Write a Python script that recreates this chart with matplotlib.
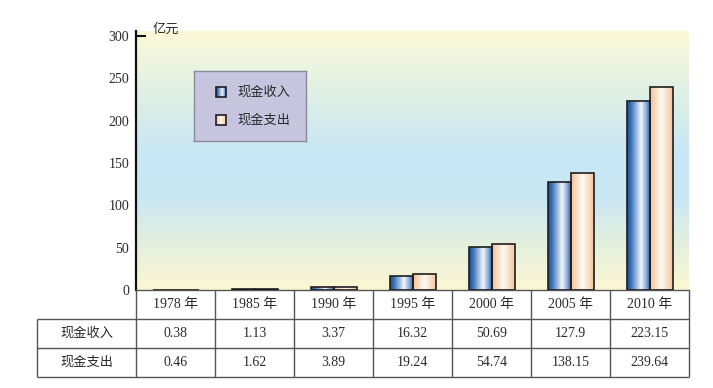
import numpy as np
import matplotlib
matplotlib.use('Agg')
import matplotlib.pyplot as plt
from matplotlib.colors import LinearSegmentedColormap
from matplotlib.patches import Rectangle

# ============================================================
# Data
# ============================================================
years = ['1978 年', '1985 年', '1990 年', '1995 年', '2000 年', '2005 年', '2010 年']
income = [0.38, 1.13, 3.37, 16.32, 50.69, 127.9, 223.15]
expense = [0.46, 1.62, 3.89, 19.24, 54.74, 138.15, 239.64]
income_txt = ['0.38', '1.13', '3.37', '16.32', '50.69', '127.9', '223.15']
expense_txt = ['0.46', '1.62', '3.89', '19.24', '54.74', '138.15', '239.64']
series_names = ['现金收入', '现金支出']
yticks = [0, 50, 100, 150, 200, 250, 300]
unit = '亿元'

# ============================================================
# Style
# ============================================================
SERIF = ['Liberation Serif', 'Noto Sans CJK SC']
CJK = ['Noto Sans CJK SC', 'DejaVu Sans']
TXT = '#2a2a2a'
GRID = '#555555'

blue_cmap = LinearSegmentedColormap.from_list(
    'blue', [(0, '#1b4c8c'), (0.18, '#3c74ba'), (0.62, '#f2f7fd'),
             (0.85, '#84a9d8'), (1, '#2d5fa2')])
peach_cmap = LinearSegmentedColormap.from_list(
    'peach', [(0, '#f1c096'), (0.5, '#fffaf3'), (1, '#f3c49c')])
bg_cmap = LinearSegmentedColormap.from_list(
    'bg', [(0, '#fbf7d2'), (0.17, '#e5f0dc'), (0.35, '#cae7f4'),
           (0.52, '#c8e6f6'), (0.75, '#def0e6'), (1, '#fcf8d6')])

W, H = 713, 388
fig = plt.figure(figsize=(W / 100, H / 100), dpi=100)

# main axes (pixel layout)
ax = fig.add_axes([136 / W, 1 - 290 / H, (689 - 136) / W, (290 - 31) / H])
x = np.arange(len(years))
bw = 23 / 79
XMIN, XMAX, YMAX = -0.5, len(years) - 0.5, 306

# background gradient
grad_v = np.linspace(0, 1, 256).reshape(-1, 1)
ax.imshow(grad_v, cmap=bg_cmap, extent=[XMIN, XMAX, 0, YMAX], origin='lower',
          aspect='auto', zorder=0)

grad_h = np.linspace(0, 1, 256).reshape(1, -1)
for vals, offs, cmap in [(income, -bw / 2, blue_cmap), (expense, bw / 2, peach_cmap)]:
    bars = ax.bar(x + offs, vals, width=bw, facecolor='none',
                  edgecolor='#1e1e1e', linewidth=1.2, zorder=3)
    for b in bars:
        x0, h = b.get_x(), b.get_height()
        im = ax.imshow(grad_h, cmap=cmap, extent=[x0, x0 + bw, 0, h],
                       aspect='auto', zorder=2)
        im.set_clip_path(b)

ax.set_xlim(XMIN, XMAX)
ax.set_ylim(0, YMAX)
ax.set_xticks([])
ax.set_yticks(yticks)
ax.set_yticklabels([str(t) for t in yticks], family=SERIF, fontsize=10, color=TXT)
ax.tick_params(axis='y', which='major', length=0, pad=5)
# only the top value gets a small inward tick
ax.yaxis.remove_overlapping_locs = False
ax.set_yticks([300], minor=True)
ax.tick_params(axis='y', which='minor', length=7, width=1.5, direction='in',
               color='#111111')
for s in ['top', 'right']:
    ax.spines[s].set_visible(False)
ax.spines['left'].set_linewidth(1.6)
ax.spines['left'].set_color('#111111')
ax.spines['bottom'].set_color(GRID)
ax.spines['bottom'].set_linewidth(1.0)

fig.text(153 / W, 1 - 29 / H, unit, family=CJK, fontsize=9.5, color=TXT,
         ha='left', va='center')

# ============================================================
# Legend (hand-made so the swatches keep the gradient)
# ============================================================
lg = fig.add_axes([194 / W, 1 - 141 / H, (306 - 194) / W, (141 - 71) / H])
lg.set_facecolor('#c7c4df')
for s in lg.spines.values():
    s.set_color('#8a8a9a')
    s.set_linewidth(1.0)
lg.set_xticks([])
lg.set_yticks([])
for i, (name, cmap) in enumerate(zip(series_names, [blue_cmap, peach_cmap])):
    yc = 21 + i * 28
    lg.imshow(grad_h, cmap=cmap, extent=[22, 32, yc + 5, yc - 5], aspect='auto', zorder=2)
    lg.add_patch(Rectangle((22, yc - 5), 10, 10, facecolor='none',
                           edgecolor='#1e1e1e', linewidth=1.2, zorder=3))
    lg.text(43, yc, name, family=CJK, fontsize=9.5, color=TXT, va='center', ha='left')
lg.set_xlim(0, 112)
lg.set_ylim(70, 0)

# ============================================================
# Data table under the chart
# ============================================================
label_w = 99 / 79
tb = fig.add_axes([37 / W, 1 - 377 / H, (689 - 37) / W, (377 - 290) / H])
tb.set_xlim(XMIN - label_w, XMAX)
tb.set_ylim(3, 0)
tb.axis('off')
lkw = dict(color=GRID, linewidth=1.0, clip_on=False)
tb.hlines([1, 2, 3], XMIN - label_w, XMAX, **lkw)
tb.vlines(XMIN - label_w, 1, 3, **lkw)
tb.vlines(np.arange(len(years) + 1) - 0.5, 0, 3, **lkw)

for i, yr in enumerate(years):
    tb.text(i, 0.5, yr, family=SERIF, fontsize=10, color=TXT, ha='center', va='center')
    tb.text(i, 1.5, income_txt[i], family=SERIF, fontsize=10, color=TXT,
            ha='center', va='center')
    tb.text(i, 2.5, expense_txt[i], family=SERIF, fontsize=10, color=TXT,
            ha='center', va='center')
for r, name in enumerate(series_names):
    tb.text(XMIN - label_w / 2, 1.5 + r, name, family=CJK, fontsize=9.5, color=TXT,
            ha='center', va='center')

fig.savefig('out.png', dpi=100, facecolor='white')
